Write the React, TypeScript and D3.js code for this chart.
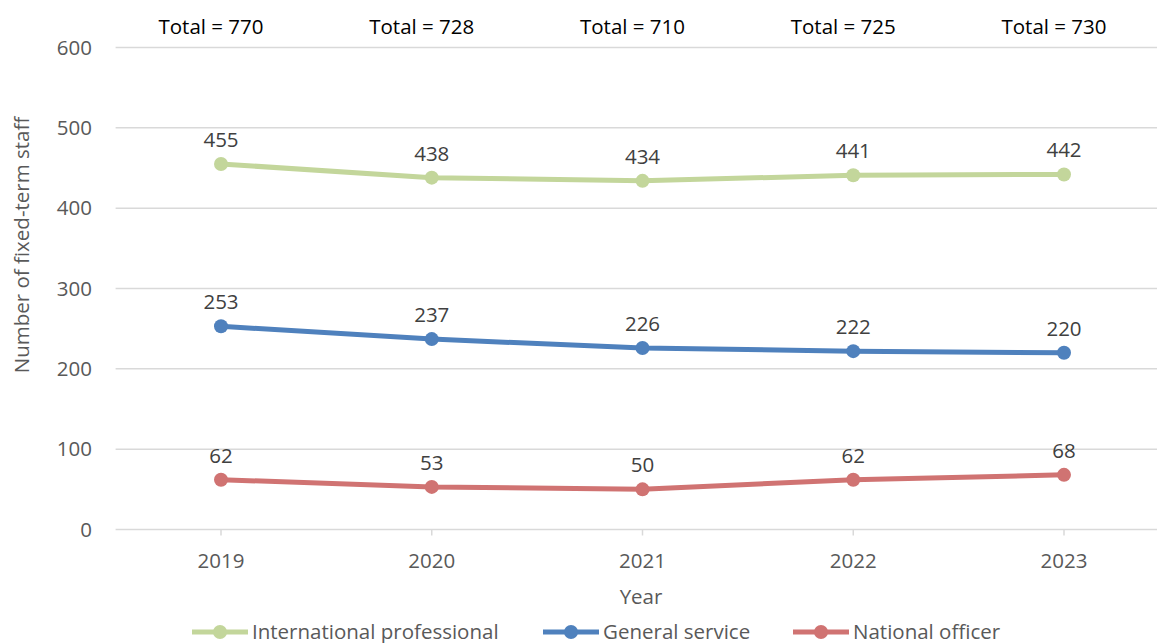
import React, { useEffect, useRef } from 'react';
import * as d3 from 'd3';

const years = ['2019', '2020', '2021', '2022', '2023'];
const international = [455, 438, 434, 441, 442];
const general = [253, 237, 226, 222, 220];
const national = [62, 53, 50, 62, 68];
const totals = [770, 728, 710, 725, 730];
const yTicks = [0, 100, 200, 300, 400, 500, 600];

const seriesList = [
  { name: 'International professional', values: international, color: '#C3D69B' },
  { name: 'General service', values: general, color: '#4F81BD' },
  { name: 'National officer', values: national, color: '#D07372' },
];

const W = 1157;
const H = 643;
const FONT = '"Open Sans", sans-serif';
const FS = 20.5;

const App = () => {
  const ref = useRef<SVGSVGElement>(null);

  useEffect(() => {
    const svg = d3.select(ref.current);
    svg.selectAll('*').remove();

    const x = d3.scalePoint().domain(years).range([221, 1064]);
    const y = d3.scaleLinear().domain([0, 600]).range([529.5, 47.5]);
    const left = 115.6;
    const right = 1169;

    // gridlines
    svg.append('g')
      .selectAll('line')
      .data(yTicks)
      .enter()
      .append('line')
      .attr('x1', left)
      .attr('x2', right)
      .attr('y1', d => y(d))
      .attr('y2', d => y(d))
      .attr('stroke', '#d9d9d9')
      .attr('stroke-width', 1.5);

    // category ticks
    svg.append('g')
      .selectAll('line')
      .data(years)
      .enter()
      .append('line')
      .attr('x1', d => x(d)!)
      .attr('x2', d => x(d)!)
      .attr('y1', y(0))
      .attr('y2', y(0) + 6)
      .attr('stroke', '#d9d9d9')
      .attr('stroke-width', 1.5);

    // y tick labels
    svg.append('g')
      .selectAll('text')
      .data(yTicks)
      .enter()
      .append('text')
      .attr('x', 92)
      .attr('y', d => y(d))
      .attr('dy', '0.35em')
      .attr('text-anchor', 'end')
      .attr('fill', '#595959')
      .attr('font-size', FS)
      .attr('font-family', FONT)
      .text(d => d);

    // x tick labels
    svg.append('g')
      .selectAll('text')
      .data(years)
      .enter()
      .append('text')
      .attr('x', d => x(d)!)
      .attr('y', 568)
      .attr('text-anchor', 'middle')
      .attr('fill', '#595959')
      .attr('font-size', FS)
      .attr('font-family', FONT)
      .text(d => d);

    // axis titles
    svg.append('text')
      .attr('x', 641)
      .attr('y', 604)
      .attr('text-anchor', 'middle')
      .attr('fill', '#595959')
      .attr('font-size', FS)
      .attr('font-family', FONT)
      .text('Year');

    svg.append('text')
      .attr('transform', 'translate(29,245) rotate(-90)')
      .attr('text-anchor', 'middle')
      .attr('fill', '#595959')
      .attr('font-size', FS)
      .attr('font-family', FONT)
      .text('Number of fixed-term staff');

    // totals
    svg.append('g')
      .selectAll('text')
      .data(totals)
      .enter()
      .append('text')
      .attr('x', (d, i) => x(years[i])! - 10)
      .attr('y', 34)
      .attr('text-anchor', 'middle')
      .attr('fill', '#000')
      .attr('font-size', FS)
      .attr('font-family', FONT)
      .text(d => 'Total = ' + d);

    const line = d3.line<number>()
      .x((d, i) => x(years[i])!)
      .y(d => y(d));

    seriesList.forEach(s => {
      const g = svg.append('g');
      g.append('path')
        .datum(s.values)
        .attr('d', line)
        .attr('fill', 'none')
        .attr('stroke', s.color)
        .attr('stroke-width', 5)
        .attr('stroke-linecap', 'round');
      g.selectAll('circle')
        .data(s.values)
        .enter()
        .append('circle')
        .attr('cx', (d, i) => x(years[i])!)
        .attr('cy', d => y(d))
        .attr('r', 7)
        .attr('fill', s.color);
      g.selectAll('text')
        .data(s.values)
        .enter()
        .append('text')
        .attr('x', (d, i) => x(years[i])!)
        .attr('y', d => y(d) - 17)
        .attr('text-anchor', 'middle')
        .attr('fill', '#404040')
        .attr('font-size', FS)
        .attr('font-family', FONT)
        .text(d => d);
    });

    // legend
    const legendX = [192, 543, 793];
    const legend = svg.append('g');
    seriesList.forEach((s, i) => {
      const lx = legendX[i];
      legend.append('line')
        .attr('x1', lx)
        .attr('x2', lx + 56)
        .attr('y1', 632)
        .attr('y2', 632)
        .attr('stroke', s.color)
        .attr('stroke-width', 5);
      legend.append('circle')
        .attr('cx', lx + 28)
        .attr('cy', 632)
        .attr('r', 7)
        .attr('fill', s.color);
      legend.append('text')
        .attr('x', lx + 60)
        .attr('y', 639)
        .attr('fill', '#595959')
        .attr('font-size', FS)
        .attr('font-family', FONT)
        .text(s.name);
    });
  }, []);

  return (
    <svg
      ref={ref}
      width={W}
      height={H}
      style={{ position: 'absolute', left: 0, top: 0, background: '#fff' }}
    />
  );
};

export default App;
